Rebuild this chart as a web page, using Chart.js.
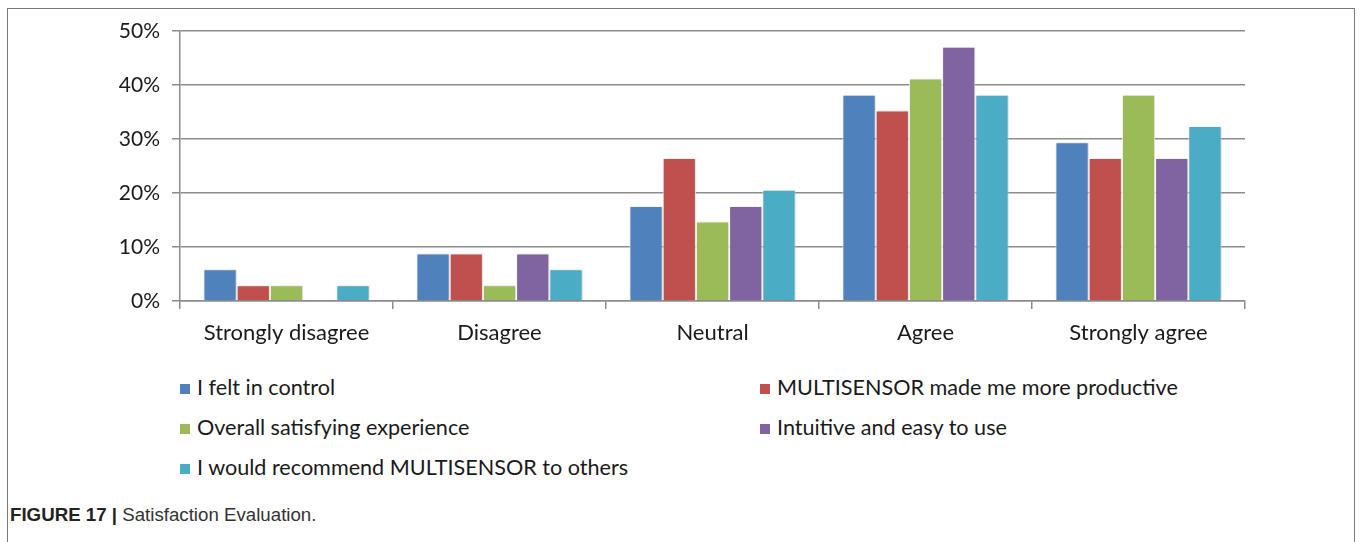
<!DOCTYPE html>
<html>
<head>
<meta charset="utf-8">
<script src="https://cdn.jsdelivr.net/npm/chart.js@4/dist/chart.umd.min.js"></script>
<style>
  body { margin: 0; background: #fff; width: 1360px; height: 542px; overflow: hidden; position: relative; }
  .frame { position: absolute; left: 7px; top: 8px; width: 1348px; height: 540px;
           border: 1.5px solid #7a7a7a; border-bottom: none; box-sizing: border-box; }
  #chart { position: absolute; left: 0; top: 0; }
  .legend { position: absolute; left: 0; top: 0; font-family: Lato, sans-serif; font-size: 21.6px; color: #1a1a1a; }
  .legend .item { position: absolute; white-space: nowrap; line-height: 24px; }
  .legend .box { display: inline-block; width: 10px; height: 10px; margin-right: 7px; vertical-align: 1px; }
  .caption { position: absolute; left: 10px; top: 504px; font-family: "Liberation Sans", Arial, sans-serif;
             font-size: 18.7px; color: #333; }
  .caption b { color: #222; }
</style>
</head>
<body>
<div class="frame"></div>
<canvas id="chart" width="1360" height="350"></canvas>
<div class="legend" id="legend"></div>
<div class="caption"><b>FIGURE 17 |</b> Satisfaction Evaluation.</div>
<script>
// answer categories and percentage of respondents per statement
const categories = ['Strongly disagree', 'Disagree', 'Neutral', 'Agree', 'Strongly agree'];
const seriesNames = [
    'I felt in control',
    'MULTISENSOR made me more productive',
    'Overall satisfying experience',
    'Intuitive and easy to use',
    'I would recommend MULTISENSOR to others'
];
const feltInControl = [5.9, 8.8, 17.6, 38.2, 29.4];
const moreProductive = [2.9, 8.8, 26.5, 35.3, 26.5];
const satisfying = [2.9, 2.9, 14.7, 41.2, 38.2];
const intuitive = [0, 8.8, 17.6, 47.1, 26.5];
const recommend = [2.9, 5.9, 20.6, 38.2, 32.4];
const yTicks = [0, 10, 20, 30, 40, 50];

const colors = ['#4f81bd', '#c0504d', '#9bbb59', '#8064a2', '#4bacc6'];
const values = [feltInControl, moreProductive, satisfying, intuitive, recommend];

const datasets = seriesNames.map((name, i) => ({
    label: name,
    data: values[i],
    backgroundColor: colors[i],
    borderColor: '#ffffff',
    borderWidth: 1,
    categoryPercentage: 0.78,
    barPercentage: 1
}));

// light drop shadow behind the bars
const barShadow = {
    id: 'barShadow',
    beforeDatasetsDraw(chart) {
        const ctx = chart.ctx;
        ctx.save();
        ctx.shadowColor = 'rgba(0,0,0,0.22)';
        ctx.shadowBlur = 3;
        ctx.shadowOffsetX = 1;
        ctx.shadowOffsetY = 0;
    },
    afterDatasetsDraw(chart) {
        chart.ctx.restore();
    }
};

const gridColor = '#8c8c8c';
const font = { family: 'Lato, sans-serif', size: 21 };

new Chart(document.getElementById('chart'), {
    type: 'bar',
    data: { labels: categories, datasets: datasets },
    plugins: [barShadow],
    options: {
        responsive: false,
        animation: false,
        devicePixelRatio: 1,
        layout: { padding: { top: 31, right: 115, bottom: 0, left: 0 } },
        plugins: { legend: { display: false }, tooltip: { enabled: false } },
        scales: {
            x: {
                grid: { display: true, drawOnChartArea: false, color: gridColor, lineWidth: 1.5, tickLength: 8 },
                border: { color: gridColor, width: 1.5 },
                ticks: { font: { family: 'Lato, sans-serif', size: 22 }, color: '#1a1a1a', padding: 11, maxRotation: 0 },
                afterFit(scale) { scale.height = 49; }
            },
            y: {
                min: 0,
                max: 50,
                afterBuildTicks(scale) { scale.ticks = yTicks.map(v => ({ value: v })); },
                grid: { color: gridColor, lineWidth: 1.5, tickLength: 8 },
                border: { color: gridColor, width: 1.5 },
                ticks: { font: font, color: '#1a1a1a', padding: 12, callback: v => v + '%' },
                afterFit(scale) { scale.width = 180; }
            }
        }
    }
});

// two-column legend under the plot
const legendPos = [[180, 375], [760, 375], [180, 415], [760, 415], [180, 455]];
document.getElementById('legend').innerHTML = seriesNames.map((name, i) => `
    <div class="item" style="left:${legendPos[i][0]}px;top:${legendPos[i][1]}px">
        <span class="box" style="background:${colors[i]}"></span>${name}
    </div>`).join('');
</script>
</body>
</html>
